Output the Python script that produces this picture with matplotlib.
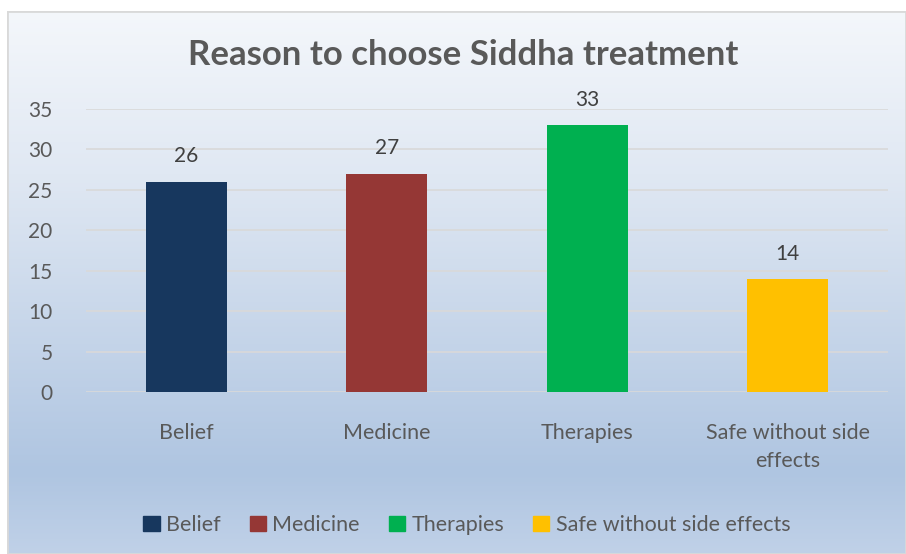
import numpy as np
import matplotlib.pyplot as plt
from matplotlib.colors import LinearSegmentedColormap
from matplotlib.patches import Rectangle

plt.rcParams['font.family'] = ['Lato', 'DejaVu Sans']

# Data
categories = ['Belief', 'Medicine', 'Therapies', 'Safe without side effects']
tick_labels = ['Belief', 'Medicine', 'Therapies', 'Safe without side\neffects']
values = [26, 27, 33, 14]
colors = ['#17375E', '#953735', '#00B050', '#FFC000']

TEXT = '#595959'
W, H = 906, 554

fig = plt.figure(figsize=(W / 100, H / 100), dpi=100)
fig.patch.set_facecolor('white')

# gradient background of the chart area
bg = fig.add_axes([7 / W, 0, 1 - 7 / W, 1 - 11 / H], zorder=0)
cmap = LinearSegmentedColormap.from_list(
    'bg', [(0, '#F4F7FB'), (0.3, '#E0E8F3'), (0.85, '#AFC5E1'), (1, '#C0D1E8')])
grad = np.linspace(0, 1, 256).reshape(-1, 1)
bg.imshow(grad, aspect='auto', cmap=cmap, extent=[0, 1, 0, 1], origin='upper')
bg.add_patch(Rectangle((0, 0), 1, 1, transform=bg.transAxes, fill=False,
                       edgecolor='#D9D9D9', linewidth=2))
bg.set_axis_off()

# plot area
x0, x1 = 86, 888
y0, y1 = 392, 109
ax = fig.add_axes([x0 / W, 1 - y0 / H, (x1 - x0) / W, (y0 - y1) / H], zorder=1)
ax.patch.set_alpha(0)

x = np.arange(len(categories))
ax.bar(x, values, width=0.405, color=colors, zorder=3)
for xi, v in zip(x, values):
    ax.annotate(str(v), (xi, v), xytext=(0, 11), textcoords='offset points',
                ha='center', va='bottom', fontsize=15, color='#404040')

ax.set_xlim(-0.5, len(categories) - 0.5)
ax.set_ylim(0, 35)
ax.set_yticks(range(0, 36, 5))
ax.yaxis.grid(True, color='#D9D9D9', linewidth=1.2, zorder=0)
ax.set_axisbelow(True)
for s in ax.spines.values():
    s.set_visible(False)
ax.tick_params(axis='both', length=0, labelcolor=TEXT)
ax.tick_params(axis='y', pad=24, labelsize=15)
ax.tick_params(axis='x', pad=22, labelsize=15.5)
ax.set_xticks(x)
ax.set_xticklabels(tick_labels, linespacing=1.55, va='top')

fig.text(463 / W, 1 - 55 / H, 'Reason to choose Siddha treatment', ha='center',
         va='center', fontsize=25, fontweight='bold', color=TEXT)

handles = [Rectangle((0, 0), 1, 1, color=c) for c in colors]
fig.legend(handles, categories, loc='center', bbox_to_anchor=(467 / W, 1 - 525 / H),
           ncol=4, frameon=False, fontsize=15.5, labelcolor=TEXT,
           handlelength=0.75, handleheight=0.75, handletextpad=0.3, columnspacing=1.35)

fig.savefig('out.png', dpi=100)
